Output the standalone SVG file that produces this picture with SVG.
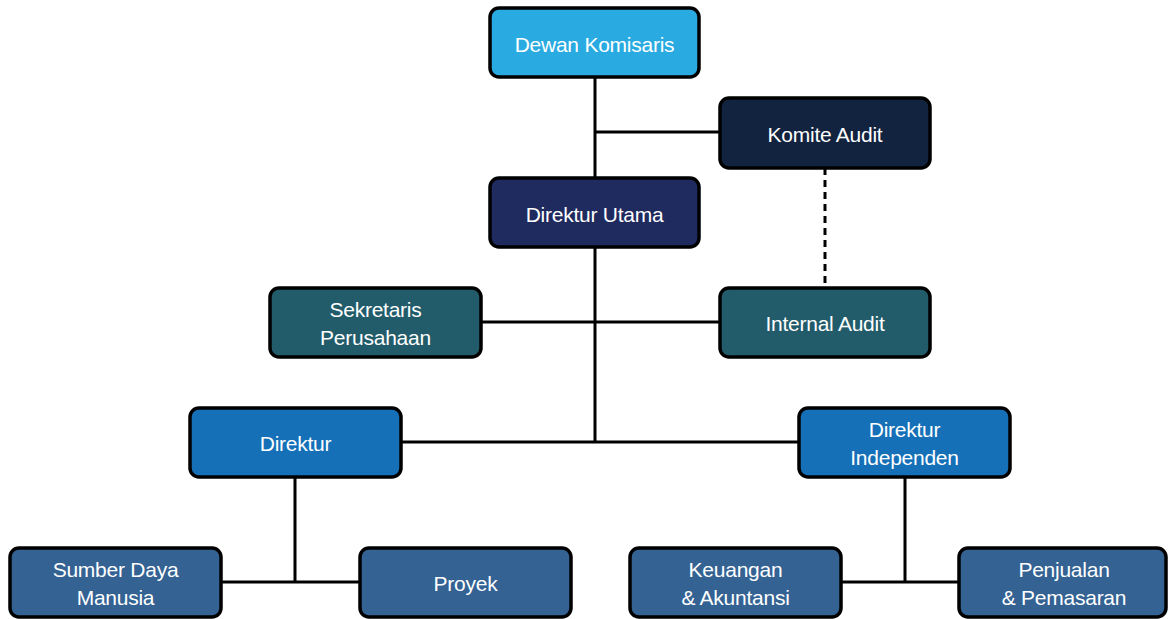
<svg xmlns="http://www.w3.org/2000/svg" width="1168" height="619" viewBox="0 0 1168 619">
<style>
.box{stroke:#000;stroke-width:3.5}
.t{font-family:"Liberation Sans",Arial,sans-serif;font-size:21px;fill:#fff;text-anchor:middle;letter-spacing:-0.25px}
.ln{stroke:#000;stroke-width:3;fill:none}
</style>
<rect width="1168" height="619" fill="#fff"/>
<g id="connectors">
<path class="ln" d="M595 77V442M595 132H720M481 322H720M401 442H799M295 477V582M221 582H360M905 477V582M841 582H959"/>
<path class="ln" d="M825 168V288" stroke-dasharray="7,5"/>
</g>
<g id="dewan"><rect class="box" x="490" y="8" width="209" height="69" rx="9" fill="#29ABE2"/><text class="t" x="594.5" y="51.5">Dewan Komisaris</text></g>
<g id="komite"><rect class="box" x="720" y="98" width="210" height="70" rx="9" fill="#12233F"/><text class="t" x="825" y="141.5">Komite Audit</text></g>
<g id="dirut"><rect class="box" x="490" y="178" width="209" height="69" rx="9" fill="#1F2A5E"/><text class="t" x="594.5" y="221.5">Direktur Utama</text></g>
<g id="sekretaris"><rect class="box" x="270" y="288" width="211" height="69" rx="9" fill="#225C6A"/><text class="t" x="375.5" y="317">Sekretaris</text><text class="t" x="375.5" y="345">Perusahaan</text></g>
<g id="internal"><rect class="box" x="720" y="288" width="210" height="69" rx="9" fill="#225C6A"/><text class="t" x="825" y="331">Internal Audit</text></g>
<g id="direktur"><rect class="box" x="190" y="408" width="211" height="69" rx="9" fill="#1570B8"/><text class="t" x="295.5" y="451">Direktur</text></g>
<g id="independen"><rect class="box" x="799" y="408" width="211" height="69" rx="9" fill="#1570B8"/><text class="t" x="904.5" y="437">Direktur</text><text class="t" x="904.5" y="465">Independen</text></g>
<g id="sdm"><rect class="box" x="10" y="548" width="211" height="69" rx="9" fill="#336293"/><text class="t" x="115.5" y="577">Sumber Daya</text><text class="t" x="115.5" y="605">Manusia</text></g>
<g id="proyek"><rect class="box" x="360" y="548" width="211" height="69" rx="9" fill="#336293"/><text class="t" x="465.5" y="591">Proyek</text></g>
<g id="keuangan"><rect class="box" x="630" y="548" width="211" height="69" rx="9" fill="#336293"/><text class="t" x="735.5" y="577">Keuangan</text><text class="t" x="735.5" y="605">&amp; Akuntansi</text></g>
<g id="penjualan"><rect class="box" x="959" y="548" width="207" height="69" rx="9" fill="#336293"/><text class="t" x="1064" y="577">Penjualan</text><text class="t" x="1064" y="605">&amp; Pemasaran</text></g>
</svg>
